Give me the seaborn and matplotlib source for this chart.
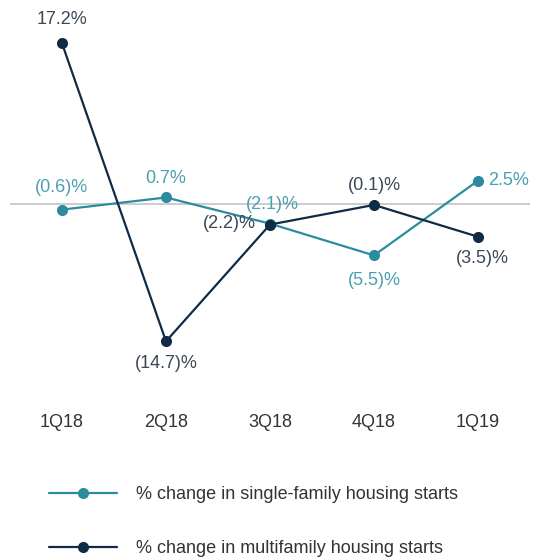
import pandas as pd
import seaborn as sns
from matplotlib import pyplot as plt

quarters = ['1Q18', '2Q18', '3Q18', '4Q18', '1Q19']
single_family = [-0.6, 0.7, -2.1, -5.5, 2.5]
multifamily = [17.2, -14.7, -2.2, -0.1, -3.5]
series_names = ['% change in single-family housing starts',
                '% change in multifamily housing starts']

teal = '#2b8c9e'
navy = '#0f2b45'
teal_txt = '#4a9fb1'
navy_txt = '#3b4858'

sns.set_theme(style='white')
plt.rcParams['font.family'] = ['Liberation Sans', 'DejaVu Sans']

df = pd.DataFrame({
    'quarter': quarters * 2,
    'value': single_family + multifamily,
    'series': [series_names[0]] * 5 + [series_names[1]] * 5,
})

fig = plt.figure(figsize=(5.36, 5.6), dpi=100)
# axes spans px 10..530 horizontally, px 10..400 vertically
ax = fig.add_axes([10 / 536, 160 / 560, 520 / 536, 390 / 560])
ax.axhline(0, color='#c4c4c4', lw=1.2, zorder=0)

sns.lineplot(data=df, x='quarter', y='value', hue='series',
             palette=[teal, navy], marker='o', markersize=8,
             markeredgewidth=0, linewidth=1.6, sort=False, ax=ax)

ax.set_xlim(-0.5, 4.5)
ax.set_ylim(-20.98, 20.77)
ax.set_yticks([])
ax.set_xticks(range(5))
ax.set_xticklabels(quarters, fontsize=13, color='#333333')
ax.tick_params(axis='x', length=0, pad=10)
ax.set_xlabel('')
ax.set_ylabel('')
for s in ax.spines.values():
    s.set_visible(False)

def fmt(v):
    return f'({abs(v):.1f})%' if v < 0 else f'{v:.1f}%'

# label offsets in points (dx, dy, ha)
sf_off = [(0, 16, 'center'), (0, 14, 'center'), (2, 14, 'center'),
          (0, -18, 'center'), (7, 0, 'left')]
mf_off = [(0, 17, 'center'), (0, -16, 'center'), (-10, 1, 'right'),
          (0, 14, 'center'), (3, -16, 'center')]

for i, v in enumerate(single_family):
    dx, dy, ha = sf_off[i]
    ax.annotate(fmt(v), (i, v), xytext=(dx, dy), textcoords='offset points',
                ha=ha, va='center', fontsize=13, color=teal_txt)
for i, v in enumerate(multifamily):
    dx, dy, ha = mf_off[i]
    ax.annotate(fmt(v), (i, v), xytext=(dx, dy), textcoords='offset points',
                ha=ha, va='center', fontsize=13, color=navy_txt)

handles, labels = ax.get_legend_handles_labels()
ax.legend_.remove()
fig.legend(handles, labels, loc='upper left', bbox_to_anchor=(33 / 536, 1 - 470 / 560),
           frameon=False, fontsize=13, handlelength=3.75, handletextpad=1.05,
           labelspacing=2.05, labelcolor='#333333')

fig.savefig('out.png', dpi=100)
